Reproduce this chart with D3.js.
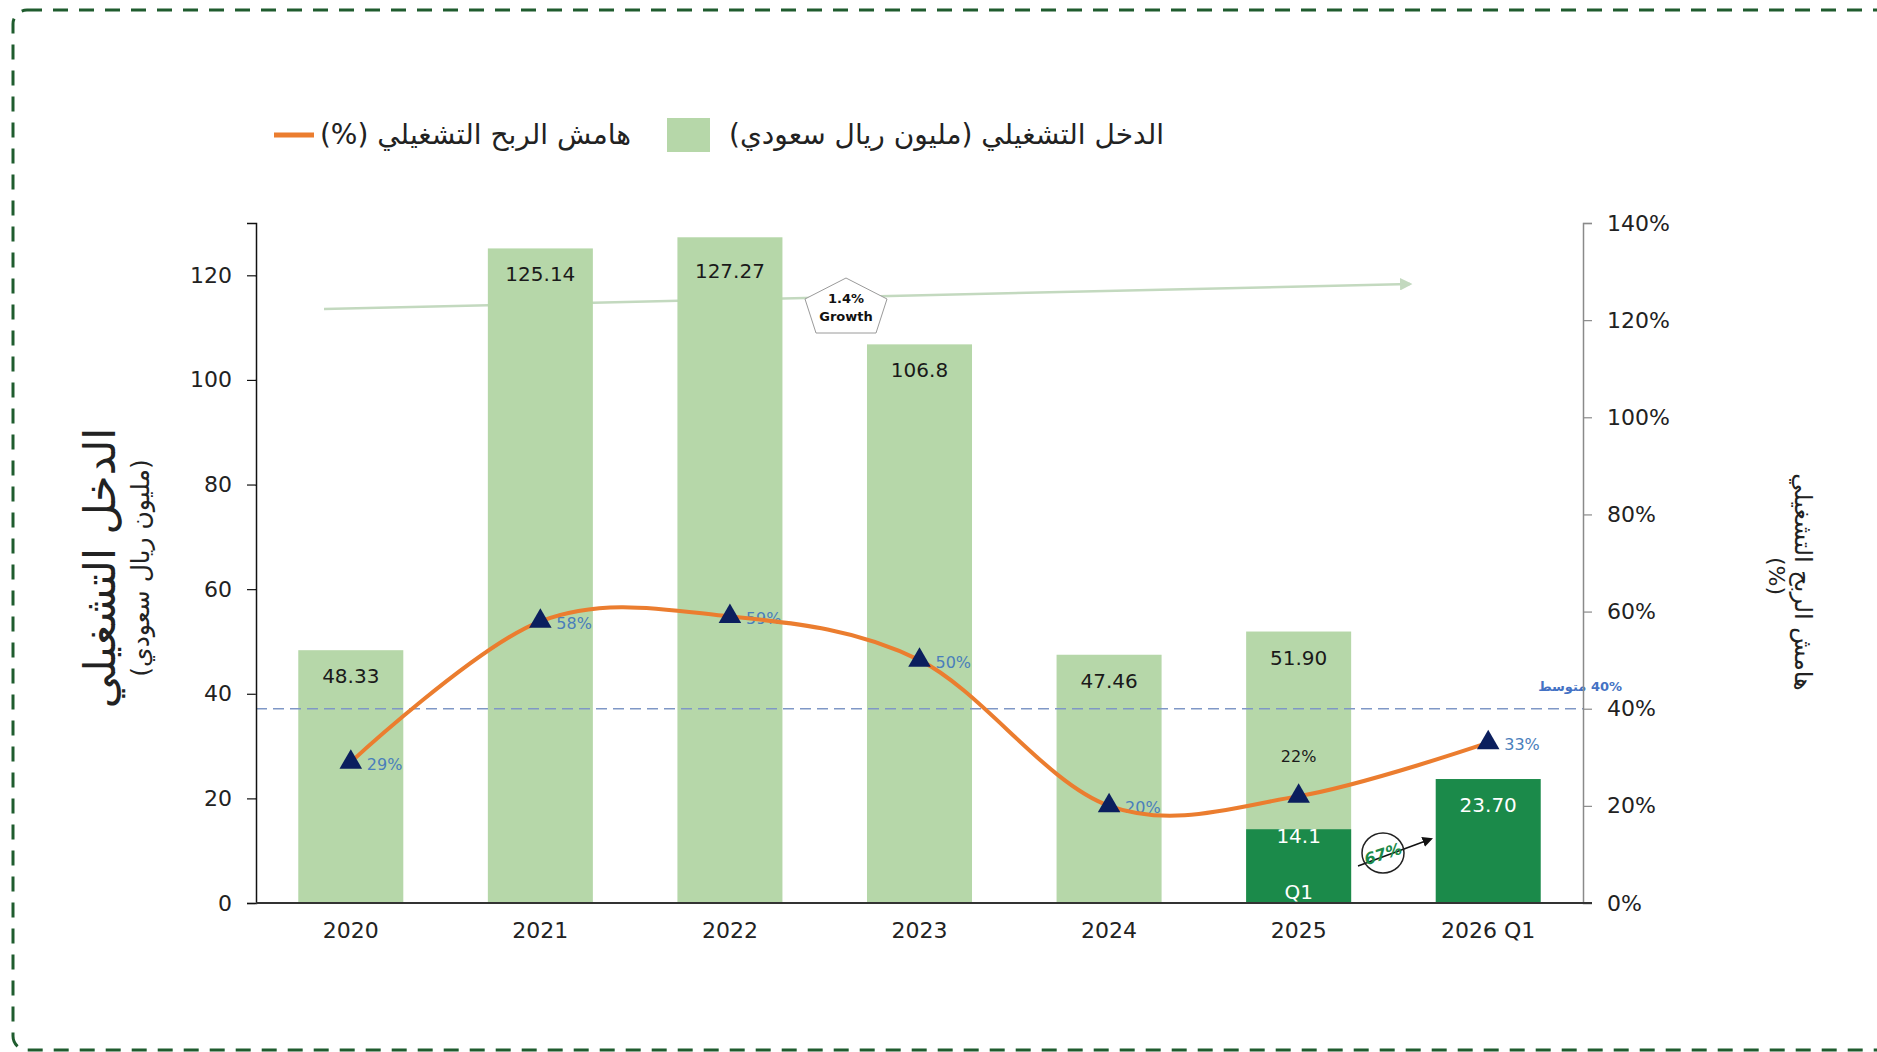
<!DOCTYPE html>
<html>
<head>
<meta charset="utf-8">
<script src="https://cdn.jsdelivr.net/npm/d3@7"></script>
<style>
  body { margin: 0; background: #fff; }
  svg { display: block; font-family: "DejaVu Sans", sans-serif; }
</style>
</head>
<body>
<div id="chart"></div>
<script>
// chart values
var years = ["2020", "2021", "2022", "2023", "2024", "2025", "2026 Q1"];
var income = [48.33, 125.14, 127.27, 106.8, 47.46, 51.90, 23.70];
var incomeLabels = ["48.33", "125.14", "127.27", "106.8", "47.46", "51.90", "23.70"];
var q1Income = [null, null, null, null, null, 14.1, null];
var q1Labels = [null, null, null, null, null, "14.1", null];
var marginPct = [29, 58, 59, 50, 20, 22, 33];
var leftTicks = [0, 20, 40, 60, 80, 100, 120];
var rightTicks = [0, 20, 40, 60, 80, 100, 120, 140];
var avgMargin = 40;
var growthText = ["1.4%", "Growth"];
var q1Growth = "67%";

var W = 1877, H = 1052;
var lightGreen = "#b6d7a9", darkGreen = "#1b8a4a", orange = "#eb7d2f", navy = "#0b1f5e";

var svg = d3.select("#chart").append("svg")
    .attr("width", W).attr("height", H);

var defs = svg.append("defs");
defs.append("marker").attr("id", "arrGrowth")
    .attr("viewBox", "0 0 10 10").attr("refX", 8).attr("refY", 5)
    .attr("markerWidth", 5).attr("markerHeight", 5).attr("orient", "auto")
    .append("path").attr("d", "M0,0L10,5L0,10z").attr("fill", "#c3d9bf");
defs.append("marker").attr("id", "arrBlack")
    .attr("viewBox", "0 0 10 10").attr("refX", 8).attr("refY", 5)
    .attr("markerWidth", 7).attr("markerHeight", 7).attr("orient", "auto")
    .append("path").attr("d", "M0,0L10,5L0,10z").attr("fill", "#111");

// frame
svg.append("rect")
    .attr("x", 13).attr("y", 10).attr("width", 1900).attr("height", 1040)
    .attr("rx", 14)
    .attr("fill", "none").attr("stroke", "#1f5c2e")
    .attr("stroke-width", 3).attr("stroke-dasharray", "15,11");

// scales
var x = d3.scaleBand().domain(years).range([256, 1583])
    .paddingInner(0.446).paddingOuter(0.223);
var yL = d3.scaleLinear().domain([0, 130]).range([903, 223]);
var yR = d3.scaleLinear().domain([0, 140]).range([903, 223]);

// growth arrow (behind bars)
svg.append("line")
    .attr("x1", 324).attr("y1", 309).attr("x2", 1410).attr("y2", 284)
    .attr("stroke", "#c3d9bf").attr("stroke-width", 2.5)
    .attr("marker-end", "url(#arrGrowth)");

// bars
svg.selectAll(".bar").data(years).enter().append("rect")
    .attr("class", "bar")
    .attr("x", function (d) { return x(d); })
    .attr("width", x.bandwidth())
    .attr("y", function (d, i) { return yL(income[i]); })
    .attr("height", function (d, i) { return yL(0) - yL(income[i]); })
    .attr("fill", function (d, i) { return i === years.length - 1 ? darkGreen : lightGreen; });

svg.selectAll(".q1bar").data(years.filter(function (d, i) { return q1Income[i] != null; }))
    .enter().append("rect")
    .attr("class", "q1bar")
    .attr("x", function (d) { return x(d); })
    .attr("width", x.bandwidth())
    .attr("y", function (d) { return yL(q1Income[years.indexOf(d)]); })
    .attr("height", function (d) { return yL(0) - yL(q1Income[years.indexOf(d)]); })
    .attr("fill", darkGreen);

// bar labels
svg.selectAll(".barlbl").data(years).enter().append("text")
    .attr("x", function (d) { return x(d) + x.bandwidth() / 2; })
    .attr("y", function (d, i) { return yL(income[i]) + (i === 2 ? 34 : 26); })
    .attr("dominant-baseline", "central")
    .attr("text-anchor", "middle")
    .style("font-size", "20px")
    .attr("fill", function (d, i) { return i === years.length - 1 ? "#fff" : "#1a1a1a"; })
    .text(function (d, i) { return incomeLabels[i]; });

years.forEach(function (d, i) {
    if (q1Income[i] == null) return;
    var cx = x(d) + x.bandwidth() / 2;
    svg.append("text").attr("x", cx).attr("y", yL(q1Income[i]) + 7)
        .attr("dominant-baseline", "central").attr("text-anchor", "middle")
        .style("font-size", "20px").attr("fill", "#fff").text(q1Labels[i]);
    svg.append("text").attr("x", cx).attr("y", yL(0) - 11)
        .attr("dominant-baseline", "central").attr("text-anchor", "middle")
        .style("font-size", "20px").attr("fill", "#fff").text("Q1");
});

// average line
svg.append("line")
    .attr("x1", 256).attr("x2", 1583)
    .attr("y1", yR(avgMargin)).attr("y2", yR(avgMargin))
    .attr("stroke", "#7f97c6").attr("stroke-width", 1.5)
    .attr("stroke-dasharray", "11,6");
svg.append("text")
    .attr("x", 1622).attr("y", yR(avgMargin) - 22)
    .attr("direction", "rtl").attr("text-anchor", "start")
    .attr("dominant-baseline", "central")
    .style("font-size", "13px").style("font-weight", "bold")
    .attr("fill", "#4472c4")
    .text(avgMargin + "% متوسط");

// axes
var gL = svg.append("g").attr("transform", "translate(256,0)")
    .call(d3.axisLeft(yL).tickValues(leftTicks).tickSizeOuter(0).tickSize(9).tickPadding(15));
gL.select(".domain").attr("stroke", "#111").attr("stroke-width", 1.5);
gL.selectAll(".tick line").attr("stroke", "#111").attr("stroke-width", 1.2);
gL.selectAll(".tick text").style("font-size", "22px").style("font-family", "DejaVu Sans").attr("fill", "#222");

var gR = svg.append("g").attr("transform", "translate(1583,0)")
    .call(d3.axisRight(yR).tickValues(rightTicks).tickSizeOuter(0).tickSize(9).tickPadding(15)
        .tickFormat(function (d) { return d + "%"; }));
gR.select(".domain").attr("stroke", "#8a8a8a").attr("stroke-width", 1.5);
gR.selectAll(".tick line").attr("stroke", "#8a8a8a").attr("stroke-width", 1.2);
gR.selectAll(".tick text").style("font-size", "22px").style("font-family", "DejaVu Sans").attr("fill", "#222");

// baseline and x labels
svg.append("line").attr("x1", 256).attr("x2", 1592)
    .attr("y1", yL(0)).attr("y2", yL(0))
    .attr("stroke", "#333").attr("stroke-width", 2);
svg.selectAll(".xlbl").data(years).enter().append("text")
    .attr("x", function (d) { return x(d) + x.bandwidth() / 2; })
    .attr("y", 930)
    .attr("dominant-baseline", "central").attr("text-anchor", "middle")
    .style("font-size", "22px").attr("fill", "#222")
    .text(function (d) { return d; });

// margin labels (under the line)
svg.selectAll(".pct").data(years).enter().append("text")
    .attr("x", function (d, i) { return i === 5 ? x(d) + x.bandwidth() / 2 : x(d) + x.bandwidth() / 2 + 16; })
    .attr("y", function (d, i) { return i === 5 ? yR(marginPct[i]) - 40 : yR(marginPct[i]) + 2; })
    .attr("dominant-baseline", "central")
    .attr("text-anchor", function (d, i) { return i === 5 ? "middle" : "start"; })
    .style("font-size", "16px")
    .attr("fill", function (d, i) { return i === 5 ? "#1a1a1a" : "#4a7ebb"; })
    .text(function (d, i) { return marginPct[i] + "%"; });

// margin line
var line = d3.line()
    .x(function (d, i) { return x(years[i]) + x.bandwidth() / 2; })
    .y(function (d) { return yR(d); })
    .curve(d3.curveCardinal.tension(0));
svg.append("path").datum(marginPct)
    .attr("d", line)
    .attr("fill", "none").attr("stroke", orange)
    .attr("stroke-width", 4).attr("stroke-linecap", "round");

svg.selectAll(".tri").data(marginPct).enter().append("path")
    .attr("d", d3.symbol().type(d3.symbolTriangle).size(220))
    .attr("transform", function (d, i) {
        return "translate(" + (x(years[i]) + x.bandwidth() / 2) + "," + yR(d) + ")";
    })
    .attr("fill", navy);

// growth pentagon
var pent = svg.append("g").attr("transform", "translate(846,306)");
pent.append("path")
    .attr("d", "M0,-28L41,-7L30,27L-30,27L-41,-7Z")
    .attr("fill", "#fff").attr("stroke", "#9a9a9a").attr("stroke-width", 1);
pent.selectAll("text").data(growthText).enter().append("text")
    .attr("x", 0).attr("y", function (d, i) { return -8 + i * 18; })
    .attr("dominant-baseline", "central").attr("text-anchor", "middle")
    .style("font-size", "13px").style("font-weight", "bold").attr("fill", "#111")
    .text(function (d) { return d; });

// Q1 growth annotation
svg.append("line")
    .attr("x1", 1358).attr("y1", 866).attr("x2", 1431).attr("y2", 839)
    .attr("stroke", "#111").attr("stroke-width", 1.5)
    .attr("marker-end", "url(#arrBlack)");
svg.append("ellipse").attr("cx", 1383).attr("cy", 853).attr("rx", 21).attr("ry", 20)
    .attr("fill", "none").attr("stroke", "#222").attr("stroke-width", 1.5);
svg.append("text")
    .attr("transform", "translate(1383,854) rotate(-18)")
    .attr("dominant-baseline", "central").attr("text-anchor", "middle")
    .style("font-size", "16px").style("font-weight", "bold").style("font-style", "italic")
    .attr("fill", darkGreen)
    .text(q1Growth);

// axis titles
svg.append("text")
    .attr("transform", "translate(100,568) rotate(-90)")
    .attr("direction", "rtl")
    .attr("dominant-baseline", "central").attr("text-anchor", "middle")
    .style("font-size", "43px").attr("fill", "#222")
    .text("الدخل التشغيلي");
svg.append("text")
    .attr("transform", "translate(140,568) rotate(-90)")
    .attr("direction", "rtl")
    .attr("dominant-baseline", "central").attr("text-anchor", "middle")
    .style("font-size", "25px").attr("fill", "#222")
    .text("(مليون ريال سعودي)");
svg.append("text")
    .attr("transform", "translate(1803,582) rotate(90)")
    .attr("direction", "rtl")
    .attr("dominant-baseline", "central").attr("text-anchor", "middle")
    .style("font-size", "24px").attr("fill", "#222")
    .text("هامش الربح التشغيلي");
svg.append("text")
    .attr("transform", "translate(1776,576) rotate(90)")
    .attr("direction", "rtl")
    .attr("dominant-baseline", "central").attr("text-anchor", "middle")
    .style("font-size", "22px").attr("fill", "#222")
    .text("(%)");

// legend
svg.append("rect").attr("x", 667).attr("y", 118).attr("width", 43).attr("height", 34)
    .attr("fill", lightGreen);
svg.append("text").attr("x", 1164).attr("y", 134)
    .attr("direction", "rtl").attr("text-anchor", "start")
    .attr("dominant-baseline", "central")
    .style("font-size", "28px").attr("fill", "#222")
    .text("الدخل التشغيلي (مليون ريال سعودي)");
svg.append("line").attr("x1", 274).attr("x2", 314).attr("y1", 135).attr("y2", 135)
    .attr("stroke", orange).attr("stroke-width", 5);
svg.append("text").attr("x", 631).attr("y", 134)
    .attr("direction", "rtl").attr("text-anchor", "start")
    .attr("dominant-baseline", "central")
    .style("font-size", "28px").attr("fill", "#222")
    .text("هامش الربح التشغيلي (%)");
</script>
</body>
</html>
